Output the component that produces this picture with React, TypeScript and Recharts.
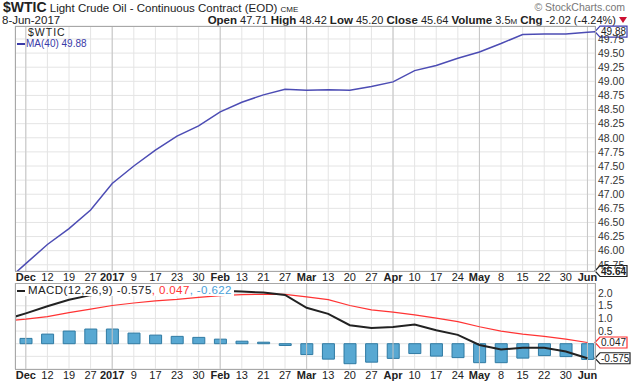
import React from "react"
import { Bar, CartesianGrid, ComposedChart, Line, ReferenceLine, XAxis, YAxis } from "recharts"

const weekLabels = ["Dec", "12", "19", "27", "2017", "9", "17", "23", "30", "Feb", "13", "21", "27", "Mar", "13", "20", "27", "Apr", "10", "17", "24", "May", "8", "15", "22", "30", "Jun"]
const monthLabels = ["Dec", "2017", "Feb", "Mar", "Apr", "May", "Jun"]

const ma40 = [45.77, 46.11, 46.39, 46.72, 47.19, 47.5, 47.78, 48.03, 48.21, 48.46, 48.63, 48.76, 48.86, 48.84, 48.85, 48.84, 48.91, 48.99, 49.19, 49.28, 49.41, 49.52, 49.67, 49.83, 49.84, 49.84, 49.87]
const macdLine = [1.2, 1.48, 1.74, 1.92, 2.05, 2.05, 2.04, 2.05, 2.08, 2.09, 2.06, 2.02, 1.93, 1.42, 1.18, 0.73, 0.62, 0.66, 0.76, 0.53, 0.35, -0.05, -0.23, -0.16, -0.16, -0.31, -0.575]
const signalLine = [0.97, 1.07, 1.23, 1.37, 1.51, 1.61, 1.69, 1.75, 1.83, 1.9, 1.94, 1.95, 1.95, 1.85, 1.74, 1.51, 1.34, 1.25, 1.14, 1.01, 0.87, 0.67, 0.5, 0.38, 0.29, 0.18, 0.047]
const histogram = [0.21, 0.38, 0.5, 0.58, 0.58, 0.42, 0.34, 0.29, 0.25, 0.18, 0.1, 0.06, -0.07, -0.43, -0.61, -0.79, -0.73, -0.58, -0.39, -0.49, -0.55, -0.75, -0.75, -0.57, -0.47, -0.51, -0.622]

// week before the visible window (clipped at the left edge) and today's partial week
const priorWeek = { i: -1, ma: 45.43, macd: 0.94, signal: 0.89 }
const latest = { i: 26.35, ma: 49.88 }

const priceTicks = [45.75, 46, 46.25, 46.5, 46.75, 47, 47.25, 47.5, 47.75, 48, 48.25, 48.5, 48.75, 49, 49.25, 49.5, 49.75]
const macdTicks = [-0.5, 0, 0.5, 1, 1.5, 2]

const weeks = weekLabels.map((_, i) => i)
const monthWeeks = weeks.filter((i) => monthLabels.includes(weekLabels[i]))

const mainRows = [priorWeek, ...weeks.map((i) => ({ i, ma: ma40[i] })), latest]
const macdRows = [
  priorWeek,
  ...weeks.map((i) => ({ i, macd: macdLine[i], signal: signalLine[i], hist: histogram[i] })),
]

const FONT = "'Liberation Sans', Arial, sans-serif"

function WeekTick({ x, y, payload }: any) {
  const label = weekLabels[payload.value]
  const bold = monthLabels.includes(label)
  return (
    <text x={x} y={y} dy={8} textAnchor="middle" fontSize={11} fontFamily={FONT} fontWeight={bold ? 700 : 400} fill="#222">
      {label}
    </text>
  )
}

function Tag({ viewBox, text, color, bold }: any) {
  const x = viewBox.x + viewBox.width
  const y = viewBox.y
  const w = text.length > 5 ? 35 : 32
  return (
    <g>
      <polygon
        points={`${x},${y} ${x + 5},${y - 5.5} ${x + w},${y - 5.5} ${x + w},${y + 5.5} ${x + 5},${y + 5.5}`}
        fill="#fff"
        stroke={color}
        strokeWidth={1.2}
      />
      <text x={x + 6} y={y + 3.5} fontSize={10} fontFamily={FONT} fontWeight={bold ? 700 : 400} fill="#222">
        {text}
      </text>
    </g>
  )
}

const frame = (top: number, height: number): React.CSSProperties => ({
  position: "absolute",
  left: 15,
  top,
  width: 581,
  height,
  border: "1px solid #a8a8a8",
  boxSizing: "border-box",
  pointerEvents: "none",
})

const lbl: React.CSSProperties = { fontSize: 11.5, fontWeight: 700 }

export default function App() {
  return (
    <div style={{ position: "absolute", left: 0, top: 0, width: 640, height: 384, background: "#fff", fontFamily: FONT, color: "#222", overflow: "hidden" }}>
      <div style={{ position: "absolute", left: 3, top: 0, whiteSpace: "nowrap", lineHeight: "13px" }}>
        <span style={{ fontSize: 14, fontWeight: 700 }}>$WTIC</span>
        <span style={{ fontSize: 11.5 }}> Light Crude Oil - Continuous Contract (EOD) </span>
        <span style={{ fontSize: 8 }}>CME</span>
      </div>
      <div style={{ position: "absolute", right: 15, top: 1, fontSize: 10.5, color: "#777", lineHeight: "13px" }}>© StockCharts.com</div>
      <div style={{ position: "absolute", left: 2, top: 15, fontSize: 11.5, lineHeight: "11px" }}>8-Jun-2017</div>
      <div style={{ position: "absolute", right: 24, top: 14, fontSize: 11, lineHeight: "12px", whiteSpace: "nowrap" }}>
        <b style={lbl}>Open</b> 47.71 <b style={lbl}>High</b> 48.42 <b style={lbl}>Low</b> 45.20{" "}
        <b style={lbl}>Close</b> 45.64 <b style={lbl}>Volume</b> 3.5<span style={{ fontSize: 8 }}>M</span>{" "}
        <b style={lbl}>Chg</b> -2.02 (-4.24%)
      </div>
      <div style={{ position: "absolute", left: 619, top: 17, width: 0, height: 0, borderLeft: "4px solid transparent", borderRight: "4px solid transparent", borderTop: "6px solid #cc1133" }} />

      <div style={{ position: "absolute", left: 0, top: 0 }}>
        <ComposedChart width={640} height={283} data={mainRows} margin={{ top: 26, right: 0, left: 15, bottom: 0 }}>
          <CartesianGrid stroke="#e4e4e4" />
          <XAxis
            type="number"
            dataKey="i"
            domain={[-0.5, 26.35]}
            allowDataOverflow
            ticks={weeks}
            interval={0}
            height={12}
            tickSize={0}
            tickMargin={2}
            axisLine={false}
            tickLine={false}
            tick={<WeekTick />}
          />
          <YAxis
            orientation="right"
            domain={[45.64, 49.98]}
            allowDataOverflow
            ticks={priceTicks}
            interval={0}
            width={45}
            tickSize={0}
            tickMargin={3}
            axisLine={false}
            tickLine={false}
            tick={{ fontSize: 10.5, fill: "#333", fontFamily: FONT }}
            tickFormatter={(v) => v.toFixed(2)}
          />
          {monthWeeks.map((i) => (
            <ReferenceLine key={i} x={i} stroke="#c6c6c6" />
          ))}
          <Line type="linear" dataKey="ma" stroke="#4c4cb4" strokeWidth={1.5} dot={false} isAnimationActive={false} />
          <ReferenceLine y={latest.ma} stroke="none" label={<Tag text="49.88" color="#3c3cb0" />} />
          <ReferenceLine y={45.64} stroke="none" label={<Tag text="45.64" color="#222" bold />} />
        </ComposedChart>
      </div>
      <div style={frame(26, 246)} />
      <div style={{ position: "absolute", left: 28, top: 27, fontSize: 10.5, letterSpacing: 1, lineHeight: "11px" }}>$WTIC</div>
      <div style={{ position: "absolute", left: 17, top: 38, fontSize: 10, color: "#3a3aa8", lineHeight: "11px", whiteSpace: "nowrap" }}>
        <span style={{ display: "inline-block", width: 8, height: 2, background: "#3a3aa8", verticalAlign: "middle", marginRight: 1 }} />
        MA(40) 49.88
      </div>

      <div style={{ position: "absolute", left: 0, top: 283 }}>
        <ComposedChart width={640} height={101} data={macdRows} margin={{ top: 0, right: 0, left: 15, bottom: 0 }}>
          <CartesianGrid stroke="#e4e4e4" />
          <XAxis
            type="number"
            dataKey="i"
            domain={[-0.5, 26.35]}
            allowDataOverflow
            ticks={weeks}
            interval={0}
            height={15}
            tickSize={0}
            tickMargin={2}
            axisLine={false}
            tickLine={false}
            tick={<WeekTick />}
          />
          <YAxis
            orientation="right"
            domain={[-1, 2.4]}
            allowDataOverflow
            ticks={macdTicks}
            interval={0}
            width={45}
            tickSize={0}
            tickMargin={3}
            axisLine={false}
            tickLine={false}
            tick={{ fontSize: 10.5, fill: "#333", fontFamily: FONT }}
            tickFormatter={(v) => (v > 0.25 ? v.toFixed(1) : "")}
          />
          {monthWeeks.map((i) => (
            <ReferenceLine key={i} x={i} stroke="#c6c6c6" />
          ))}
          <Bar dataKey="hist" barSize={12} fill="#58a8d2" stroke="#2f7aa3" strokeWidth={1} isAnimationActive={false} />
          <Line type="linear" dataKey="signal" stroke="#ff3333" strokeWidth={1.2} dot={false} isAnimationActive={false} />
          <Line type="linear" dataKey="macd" stroke="#222" strokeWidth={2} dot={false} isAnimationActive={false} />
          <ReferenceLine y={0.047} stroke="none" label={<Tag text="0.047" color="#ff3333" />} />
          <ReferenceLine y={-0.575} stroke="none" label={<Tag text="-0.575" color="#222" />} />
        </ComposedChart>
      </div>
      <div style={frame(283, 87)} />
      <div style={{ position: "absolute", left: 16, top: 284, background: "#fff", fontSize: 11.5, letterSpacing: 0.4, lineHeight: "12px", whiteSpace: "nowrap", paddingRight: 2 }}>
        <span style={{ display: "inline-block", width: 8, height: 2, background: "#222", verticalAlign: "middle", margin: "0 3px 0 1px" }} />
        MACD(12,26,9) -0.575<span style={{ color: "#ff3333" }}>, 0.047</span>
        <span style={{ color: "#4aa0d8" }}>, -0.622</span>
      </div>
    </div>
  )
}
